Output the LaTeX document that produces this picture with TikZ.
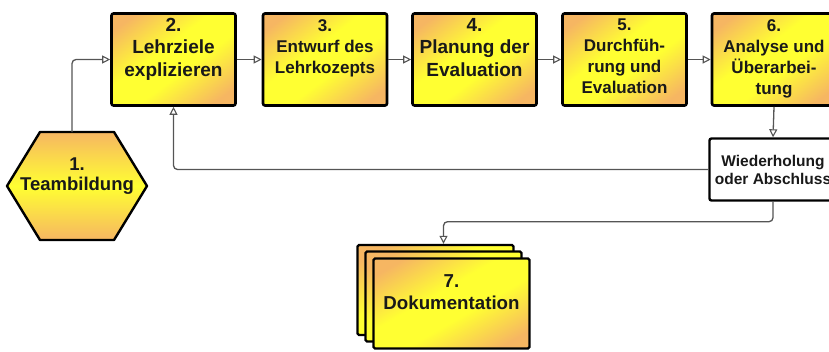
\documentclass[tikz,border=0pt]{standalone}
\usepackage{fontspec}
\setmainfont{Liberation Sans}
\usetikzlibrary{arrows.meta}
\definecolor{orng}{RGB}{246,182,98}
\definecolor{yel}{RGB}{255,255,50}
\definecolor{lncol}{RGB}{85,85,85}
\pgfdeclarefunctionalshading{diagshade}{\pgfpoint{0bp}{0bp}}{\pgfpoint{100bp}{100bp}}{}{%
 sub abs 10 sub 30 div
 dup 0 lt {pop 0} if dup 1 gt {pop 1} if
 dup 0.035 mul 1 exch sub exch
 dup 0.286 mul 1 exch sub exch
 0.188 mul 0.196 add
}
\tikzset{
 stepbox/.style={draw=black, line width=2.6pt, rounded corners=2pt, minimum width=124pt, minimum height=92pt,
   shading=diagshade},
 sheet/.style={draw=black, line width=2.4pt, rounded corners=1.5pt, minimum width=156pt, minimum height=90pt,
   shading=diagshade},
 boxtext/.style={align=center, inner sep=0pt, anchor=north, text=black!90, font=\bfseries\fontsize{17}{21}\selectfont},
 bigtext/.style={boxtext, font=\bfseries\fontsize{19}{22.5}\selectfont},
 link/.style={draw=lncol, line width=1.3pt, rounded corners=4pt,
   -{Triangle[open,length=8pt,width=8pt,line width=1.1pt]}},
}
\begin{document}
\begin{tikzpicture}[x=1pt,y=-1pt]
\useasboundingbox (0,0) rectangle (829,351);
\clip (0,0) rectangle (829,351);
% step boxes
\node[stepbox] (b2) at (173.5,59.5) {};
\node[stepbox] (b3) at (325,59.5) {};
\node[stepbox] (b4) at (474.5,59.5) {};
\node[stepbox] (b5) at (624.5,59.5) {};
\node[stepbox] (b6) at (774,59.5) {};
\node[bigtext] (t2) at (173.5,18) {2.\\Lehrziele\\explizieren};
\node[boxtext] (t3) at (325,19) {3.\\Entwurf des\\Lehrkozepts};
\node[bigtext] (t4) at (474.5,18) {4.\\Planung der\\Evaluation};
\node[boxtext] (t5) at (624.5,19) {5.\\Durchfüh-\\rung und\\Evaluation};
\node[boxtext] (t6) at (774,19) {6.\\Analyse und\\Überarbei-\\tung};
% hexagon
\shadedraw[top color=orng, bottom color=orng, middle color=yel, draw=black, line width=2.4pt, line join=round]
  (7,186) -- (40,132) -- (114,132) -- (147,186) -- (114,240) -- (40,240) -- cycle;
\coordinate (h1top) at (72,132);
\node[bigtext, font=\bfseries\fontsize{18.5}{19.5}\selectfont] (t1) at (77,158) {1.\\Teambildung};
% decision box
\node[draw=black, line width=2.4pt, fill=white, rounded corners=2pt, minimum width=127pt, minimum height=62pt,
  align=center, text=black!90, font=\bfseries\fontsize{15.5}{18}\selectfont] (wh) at (773,169.5) {Wiederholung\\oder Abschluss};
% documentation stack
\node[sheet] (dback) at (435.5,290) {};
\node[sheet] (dmid) at (443.5,296.5) {};
\node[sheet] (doc) at (451.5,303.5) {};
\node[bigtext, font=\bfseries\fontsize{18.7}{22.5}\selectfont] (t7) at (451.5,274) {7.\\Dokumentation};
% connectors
\draw[link] (h1top) |- (b2.west);
\draw[link] (b2.east) -- (b3.west);
\draw[link] (b3.east) -- (b4.west);
\draw[link] (b4.east) -- (b5.west);
\draw[link] (b5.east) -- (b6.west);
\draw[link] (b6.south) -- (wh.north);
\draw[link] (wh.west) -| (b2.south);
\draw[link] (wh.south) -- ++(0,20) -| (dmid.north |- dback.north);
\end{tikzpicture}
\end{document}
